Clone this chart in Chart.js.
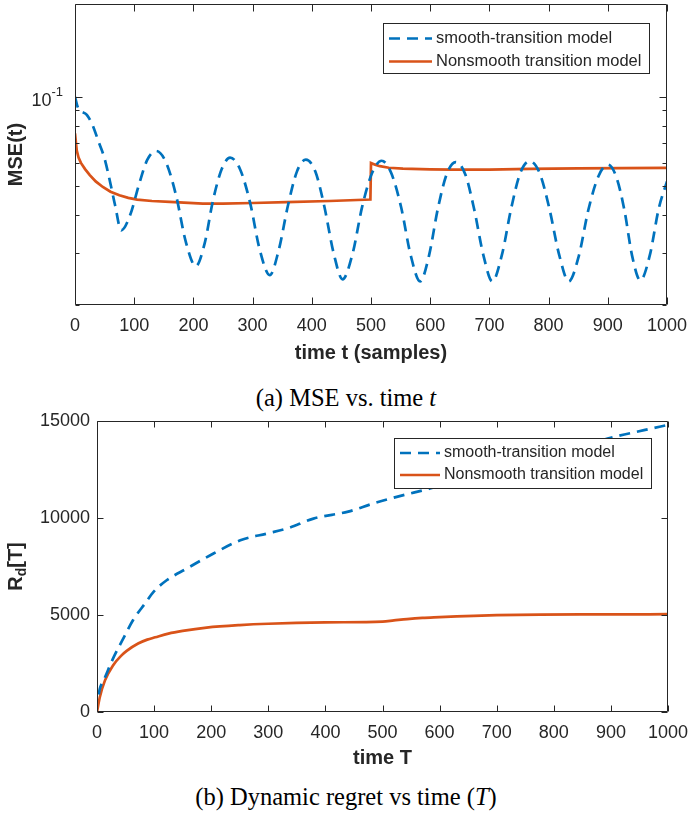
<!DOCTYPE html>
<html lang="en">
<head>
<meta charset="UTF-8">
<title>MSE and dynamic regret</title>
<script src="https://cdn.jsdelivr.net/npm/chart.js@4"></script>
<style>
  body { margin: 0; background: #fff; width: 692px; height: 813px; position: relative; overflow: hidden; }
  canvas { position: absolute; left: 0; }
  #mseChart { top: 0; }
  #regretChart { top: 400px; }
  .caption {
    position: absolute; left: 0; width: 692px; text-align: center;
    font-family: 'Liberation Serif', 'Times New Roman', serif;
    font-size: 24.5px; line-height: 30px; color: #000;
  }
</style>
</head>
<body>
<canvas id="mseChart" width="692" height="368"></canvas>
<div class="caption" style="top:383px">(a) MSE vs. time <i>t</i></div>
<canvas id="regretChart" width="692" height="373"></canvas>
<div class="caption" style="top:782px">(b) Dynamic regret vs time (<i>T</i>)</div>

<script>
// ---- panel (a): MSE(t), log scale ----
const mseSmoothT = [0, 5, 20, 30, 40, 50, 60, 68, 78, 93, 108, 122, 137, 154, 171, 187, 204, 219, 233, 248,
  262, 279, 296, 312, 329, 344, 360, 375, 390, 406, 421, 437, 452, 469, 485, 502, 518, 534, 551, 567,
  583, 598, 613, 628, 643, 659, 674, 690, 705, 721, 737, 752, 768, 785, 801, 818, 834, 851, 867, 884,
  900, 914, 928, 941, 955, 971, 986, 1000];
const mseSmooth = [0.100, 0.092, 0.087, 0.080, 0.0705, 0.0620, 0.0510, 0.0430, 0.0356, 0.0400, 0.0507, 0.0614,
  0.0658, 0.0601, 0.0464, 0.0327, 0.0270, 0.0322, 0.0448, 0.0573,
  0.0625, 0.0570, 0.0439, 0.0307, 0.0252, 0.0305, 0.0434, 0.0562, 0.0615, 0.0561, 0.0430, 0.0298,
  0.0244, 0.0298, 0.0427, 0.0556, 0.0610, 0.0556, 0.0425, 0.0294,
  0.0240, 0.0293, 0.0422, 0.0551, 0.0604, 0.0551, 0.0422, 0.0293, 0.0240, 0.0294, 0.0424, 0.0554,
  0.0608, 0.0554, 0.0424, 0.0294, 0.0240, 0.0292, 0.0416, 0.0540,
  0.0592, 0.0541, 0.0417, 0.0293, 0.0242, 0.0294, 0.0421, 0.0520];

const mseNonT = [0, 3, 6, 10, 17, 25, 35, 47, 60, 75, 90, 105, 130, 160, 216, 250, 300, 357, 430, 499,
  500, 507, 515, 530, 554, 600, 638, 700, 768, 850, 1000];
const mseNon = [0.0754, 0.066, 0.0625, 0.060, 0.0572, 0.0546, 0.052, 0.0498, 0.048, 0.0467, 0.0458, 0.0452,
  0.0447, 0.0444, 0.0438, 0.0438, 0.0440, 0.0443, 0.0447, 0.0452,
  0.0600, 0.0592, 0.0585, 0.0578, 0.0574, 0.0571, 0.0570, 0.0570, 0.0573, 0.0575, 0.0577];

const mseYTicks = [0.02, 0.03, 0.04, 0.05, 0.06, 0.07, 0.08, 0.09, 0.1];

// ---- panel (b): dynamic regret ----
const regSmoothT = [3, 5, 13, 28, 45, 63, 84, 99, 122, 157, 204, 251, 298, 333, 379, 440, 484, 525, 583,
  650, 700, 750, 800, 850, 910, 960, 1000];
const regSmooth = [900, 1200, 1720, 2750, 3730, 4730, 5590, 6190, 6790, 7390, 8170, 8850, 9200, 9460, 9970,
  10330, 10750, 11090, 11520, 12070, 12480, 12890, 13300, 13720, 14210, 14540, 14800];

const regNonT = [0, 5, 14, 28, 43, 52, 72, 88, 102, 125, 150, 192, 250, 300, 400, 500, 520, 543, 570, 600,
  630, 660, 700, 776, 900, 1000];
const regNon = [0, 770, 1630, 2400, 2920, 3150, 3530, 3730, 3850, 4040, 4180, 4350, 4480, 4550, 4620, 4660,
  4720, 4790, 4850, 4890, 4930, 4960, 4990, 5020, 5030, 5040];

const seriesNames = ['smooth-transition model', 'Nonsmooth transition model'];

const axisColor = '#262626';
const blue = '#0072BD';
const orange = '#D95319';
const sansFont = "'Liberation Sans', Arial, Helvetica, sans-serif";

Chart.defaults.font.family = sansFont;
Chart.defaults.color = axisColor;
Chart.defaults.animation = false;

function toPoints(xs, ys) {
  return xs.map((x, i) => ({ x: x, y: ys[i] }));
}

// MATLAB-like frame: full box, inward ticks on all sides, boxed legend
const matlabFrame = {
  id: 'matlabFrame',
  afterDatasetsDraw(chart, args, o) {
    const { ctx, chartArea: a } = chart;
    const xs = chart.scales.x, ys = chart.scales.y;
    const L = Math.round(a.left) + 0.5, R = Math.round(a.right) - 0.5;
    const T = Math.round(a.top) + 0.5, B = Math.round(a.bottom) - 0.5;
    ctx.save();
    ctx.strokeStyle = axisColor;
    ctx.lineWidth = 1;
    ctx.beginPath();
    ctx.rect(L, T, R - L, B - T);
    xs.ticks.forEach(t => {
      const px = Math.round(xs.getPixelForValue(t.value)) + 0.5;
      ctx.moveTo(px, B); ctx.lineTo(px, B - o.tickLen);
      ctx.moveTo(px, T); ctx.lineTo(px, T + o.tickLen);
    });
    ys.ticks.forEach(t => {
      const py = Math.round(ys.getPixelForValue(t.value)) + 0.5;
      const len = (o.majorY && !o.majorY.includes(t.value)) ? o.minorLen : o.tickLen;
      ctx.moveTo(L, py); ctx.lineTo(L + len, py);
      ctx.moveTo(R, py); ctx.lineTo(R - len, py);
    });
    ctx.stroke();

    // power-of-ten tick label (panel a)
    if (o.powLabel) {
      const p = o.powLabel;
      const py = ys.getPixelForValue(p.value);
      ctx.fillStyle = axisColor;
      ctx.textBaseline = 'middle';
      ctx.textAlign = 'left';
      ctx.font = p.size + 'px ' + sansFont;
      const wb = ctx.measureText(p.base).width;
      ctx.font = p.expSize + 'px ' + sansFont;
      const we = ctx.measureText(p.exp).width;
      const x0 = a.left - p.gap - wb - we;
      ctx.font = p.size + 'px ' + sansFont;
      ctx.fillText(p.base, x0, py + p.baseShift);
      ctx.font = p.expSize + 'px ' + sansFont;
      ctx.fillText(p.exp, x0 + wb, py + p.expShift);
    }

    // legend
    const lg = o.legend;
    ctx.fillStyle = '#fff';
    ctx.fillRect(lg.x, lg.y, lg.w, lg.h);
    ctx.strokeStyle = axisColor;
    ctx.lineWidth = 1;
    ctx.strokeRect(lg.x + 0.5, lg.y + 0.5, lg.w, lg.h);
    ctx.font = lg.font;
    ctx.textBaseline = 'middle';
    ctx.textAlign = 'left';
    chart.data.datasets.forEach((ds, i) => {
      const cy = lg.y + lg.rowTop + i * lg.rowGap;
      ctx.strokeStyle = ds.borderColor;
      ctx.lineWidth = ds.borderWidth;
      ctx.setLineDash(ds.borderDash || []);
      ctx.beginPath();
      ctx.moveTo(lg.x + lg.sample0, cy);
      ctx.lineTo(lg.x + lg.sample1, cy);
      ctx.stroke();
      ctx.setLineDash([]);
      ctx.fillStyle = axisColor;
      ctx.fillText(ds.label, lg.x + lg.textX, cy);
    });

    // y title with subscript (panel b)
    if (o.yTitle) {
      const yt = o.yTitle;
      ctx.save();
      ctx.translate(yt.x, (a.top + a.bottom) / 2);
      ctx.rotate(-Math.PI / 2);
      ctx.fillStyle = axisColor;
      ctx.textBaseline = 'middle';
      const big = 'bold ' + yt.size + 'px ' + sansFont, small = 'bold ' + yt.subSize + 'px ' + sansFont;
      ctx.font = big;
      const w1 = ctx.measureText(yt.main).width, w3 = ctx.measureText(yt.tail).width;
      ctx.font = small;
      const w2 = ctx.measureText(yt.sub).width;
      let x0 = -(w1 + w2 + w3) / 2;
      ctx.font = big; ctx.fillText(yt.main, x0, 0); x0 += w1;
      ctx.font = small; ctx.fillText(yt.sub, x0, yt.subShift); x0 += w2;
      ctx.font = big; ctx.fillText(yt.tail, x0, 0);
      ctx.restore();
    }
    ctx.restore();
  }
};

function xAxis(title, height) {
  return {
    type: 'linear', min: 0, max: 1000,
    grid: { display: false, drawTicks: false },
    border: { display: false },
    ticks: { stepSize: 100, padding: 10, font: { size: 18 }, color: axisColor, callback: v => String(v) },
    title: { display: true, text: title, font: { size: 20, weight: 'bold' }, color: axisColor, padding: { top: 4, bottom: 3 } },
    afterFit: s => { s.height = height; s.paddingLeft = 0; s.paddingRight = 0; }
  };
}

// ---- chart (a) ----
new Chart(document.getElementById('mseChart'), {
  type: 'line',
  data: {
    datasets: [
      { label: seriesNames[0], data: toPoints(mseSmoothT, mseSmooth), borderColor: blue, borderWidth: 2.7,
        borderDash: [11, 7], pointRadius: 0, fill: false, cubicInterpolationMode: 'monotone' },
      { label: seriesNames[1], data: toPoints(mseNonT, mseNon), borderColor: orange, borderWidth: 2.7,
        pointRadius: 0, fill: false, tension: 0 }
    ]
  },
  options: {
    responsive: false,
    devicePixelRatio: 1,
    layout: { padding: { left: 0, right: 25, top: 4, bottom: 0 } },
    plugins: {
      legend: { display: false },
      tooltip: { enabled: false },
      matlabFrame: {
        tickLen: 7, minorLen: 4, majorY: [0.1],
        powLabel: { value: 0.1, base: '10', exp: '-1', size: 18, expSize: 13, gap: 12, baseShift: 4, expShift: -4 },
        legend: { x: 383, y: 23, w: 266, h: 50, rowTop: 15.5, rowGap: 23, sample0: 6, sample1: 49, textX: 53,
          font: '16.5px ' + sansFont }
      }
    },
    scales: {
      x: xAxis('time t (samples)', 63),
      y: {
        type: 'logarithmic', min: 0.02, max: 0.205,
        grid: { display: false, drawTicks: false },
        border: { display: false },
        afterBuildTicks: s => { s.ticks = mseYTicks.map(v => ({ value: v })); },
        ticks: { padding: 11, font: { size: 18 }, color: axisColor, autoSkip: false, callback: () => '' },
        title: { display: true, text: 'MSE(t)', font: { size: 20, weight: 'bold' }, color: axisColor, padding: { top: 4, bottom: 0 } },
        afterFit: s => { s.width = 75; s.paddingTop = 0; s.paddingBottom = 0; }
      }
    }
  },
  plugins: [matlabFrame]
});

// ---- chart (b) ----
new Chart(document.getElementById('regretChart'), {
  type: 'line',
  data: {
    datasets: [
      { label: seriesNames[0], data: toPoints(regSmoothT, regSmooth), borderColor: blue, borderWidth: 2.7,
        borderDash: [11, 7], pointRadius: 0, fill: false, cubicInterpolationMode: 'monotone' },
      { label: seriesNames[1], data: toPoints(regNonT, regNon), borderColor: orange, borderWidth: 2.7,
        pointRadius: 0, fill: false, cubicInterpolationMode: 'monotone' }
    ]
  },
  options: {
    responsive: false,
    devicePixelRatio: 1,
    layout: { padding: { left: 0, right: 24, top: 21, bottom: 0 } },
    plugins: {
      legend: { display: false },
      tooltip: { enabled: false },
      matlabFrame: {
        tickLen: 6,
        legend: { x: 394, y: 38, w: 257, h: 50, rowTop: 15, rowGap: 22, sample0: 6, sample1: 46, textX: 50,
          font: '16px ' + sansFont },
        yTitle: { x: 16, main: 'R', sub: 'd', tail: '[T]', size: 20, subSize: 14, subShift: 6 }
      }
    },
    scales: {
      x: xAxis('time T', 61),
      y: {
        type: 'linear', min: 0, max: 15000,
        grid: { display: false, drawTicks: false },
        border: { display: false },
        ticks: { stepSize: 5000, padding: 7, font: { size: 18 }, color: axisColor, callback: v => String(v) },
        afterFit: s => { s.width = 97; s.paddingTop = 0; s.paddingBottom = 0; }
      }
    }
  },
  plugins: [matlabFrame]
});
</script>
</body>
</html>
